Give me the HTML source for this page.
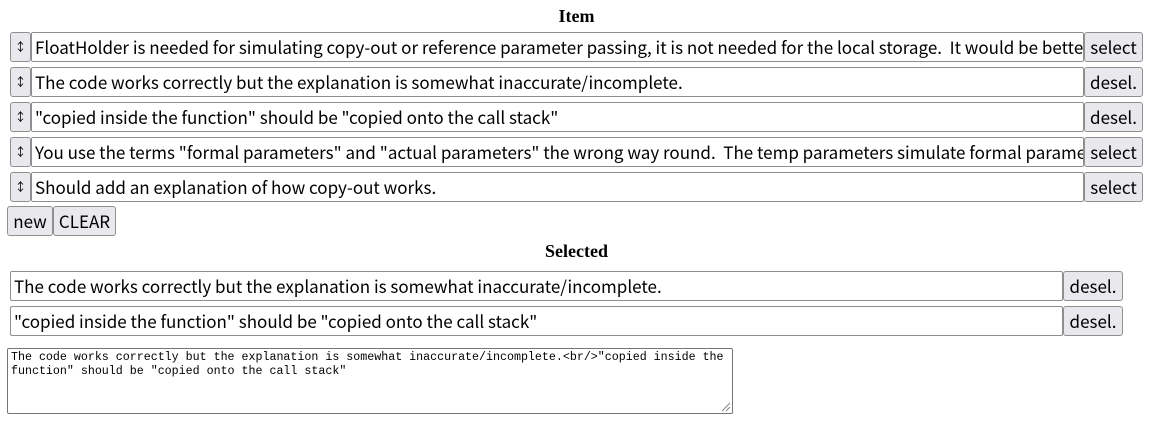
<!DOCTYPE html>
<html><head><style>
body{margin:0;width:1153px;height:427px;background:#fff;position:relative;overflow:hidden;font-family:"Noto Sans CJK SC","Liberation Sans",sans-serif;}
.a{position:absolute;box-sizing:border-box;}
.in{border:1px solid #8f8f8f;border-radius:2px;background:#fff;font-size:17px;line-height:27px;padding-left:3px;white-space:nowrap;overflow:hidden;color:#000;}
.b{border:1px solid #8f8f8f;border-radius:3px;background:#e9e9ed;font-size:17px;line-height:27px;text-align:center;color:#000;white-space:nowrap;}
.h{font-family:"Liberation Serif",serif;font-weight:bold;font-size:18px;width:1153px;text-align:center;}
</style></head><body>
<div class="a h" style="top:6px;left:0">Item</div>
<div class="a b" style="left:10px;top:32px;width:21px;height:30px;font-size:12px">↕</div>
<div class="a in" style="left:31px;top:32px;width:1053px;height:30px">FloatHolder is needed for simulating copy-out or reference parameter passing, it is not needed for the local storage.&nbsp; It would be better</div>
<div class="a b" style="left:1084px;top:32px;width:59px;height:30px">select</div>
<div class="a b" style="left:10px;top:67px;width:21px;height:30px;font-size:12px">↕</div>
<div class="a in" style="left:31px;top:67px;width:1053px;height:30px">The code works correctly but the explanation is somewhat inaccurate/incomplete.</div>
<div class="a b" style="left:1084px;top:67px;width:59px;height:30px">desel.</div>
<div class="a b" style="left:10px;top:102px;width:21px;height:30px;font-size:12px">↕</div>
<div class="a in" style="left:31px;top:102px;width:1053px;height:30px">"copied inside the function" should be "copied onto the call stack"</div>
<div class="a b" style="left:1084px;top:102px;width:59px;height:30px">desel.</div>
<div class="a b" style="left:10px;top:137px;width:21px;height:30px;font-size:12px">↕</div>
<div class="a in" style="left:31px;top:137px;width:1053px;height:30px">You use the terms "formal parameters" and "actual parameters" the wrong way round.&nbsp; The temp parameters simulate formal parameters</div>
<div class="a b" style="left:1084px;top:137px;width:59px;height:30px">select</div>
<div class="a b" style="left:10px;top:172px;width:21px;height:30px;font-size:12px">↕</div>
<div class="a in" style="left:31px;top:172px;width:1053px;height:30px">Should add an explanation of how copy-out works.</div>
<div class="a b" style="left:1084px;top:172px;width:59px;height:30px">select</div>
<div class="a b" style="left:7px;top:206px;width:46px;height:30px">new</div>
<div class="a b" style="left:53px;top:206px;width:63px;height:30px">CLEAR</div>
<div class="a h" style="top:241px;left:0">Selected</div>
<div class="a in" style="left:10px;top:271px;width:1053px;height:30px">The code works correctly but the explanation is somewhat inaccurate/incomplete.</div>
<div class="a b" style="left:1063px;top:271px;width:60px;height:30px">desel.</div>
<div class="a in" style="left:10px;top:306px;width:1053px;height:30px">"copied inside the function" should be "copied onto the call stack"</div>
<div class="a b" style="left:1063px;top:306px;width:60px;height:30px">desel.</div>
<div class="a" style="left:7px;top:348px;width:726px;height:66px;border:1px solid #767676;border-radius:2px;font-family:'Liberation Mono',monospace;font-size:11.65px;line-height:14px;padding:2px 3px;white-space:pre-wrap;word-break:break-word">The code works correctly but the explanation is somewhat inaccurate/incomplete.&lt;br/&gt;"copied inside the function" should be "copied onto the call stack"</div>
<svg class="a" style="left:719px;top:400px" width="12" height="12"><path d="M11 3L3 11M11 7L7 11" stroke="#888" stroke-width="1"/></svg>
</body></html>
